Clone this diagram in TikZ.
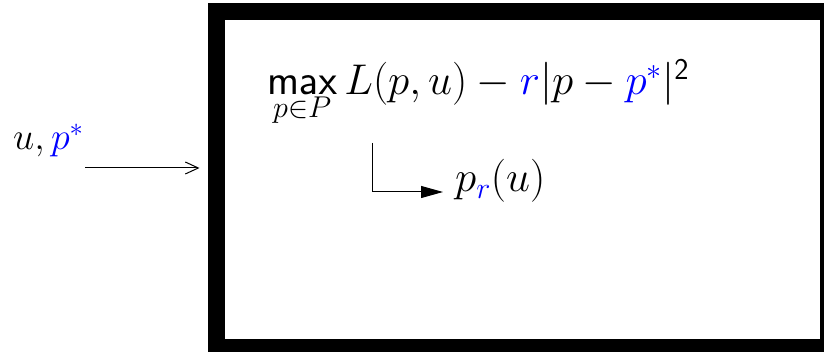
\documentclass[tikz,border=0pt]{standalone}
\usepackage{fix-cm}
\usetikzlibrary{arrows.meta}
\definecolor{pblue}{RGB}{0,0,255}
\tikzset{
  txt/.style={inner sep=0pt, anchor=base west, font=\fontsize{43}{50}\selectfont},
  smalltxt/.style={txt, font=\fontsize{38}{45}\selectfont},
  conn/.style={line width=1pt},
}
\begin{document}
\begin{tikzpicture}[x=1pt,y=-1pt]
\useasboundingbox (0,0) rectangle (824,352);
\clip (0,0) rectangle (824,352);
\node[draw, line width=17pt, inner sep=0pt, minimum width=612pt, minimum height=336pt] (box) at (522.5,179.5) {};
\node[smalltxt] (inp) at (13,150) {$u,{\color{pblue}p^*}$};
\coordinate (in) at (85,168);
\draw[conn, -{Straight Barb[length=13pt,width=12pt,line width=1pt]}, shorten >=8.5pt] (in) -- (in -| box.west);
\node[txt] (f) at (267,95) {$\mathop{\mathsf{max}}\limits_{\lower8pt\hbox{$\scriptstyle p\in P$}} L(p,u)-{\color{pblue}r}|p-{\color{pblue}p^*}|^{\mathsf{2}}$};
\coordinate (c1) at (372,143);
\node[txt] (out) at (455,192) {$p_{\color{pblue}r}(u)$};
\draw[conn, -{Triangle[length=22pt,width=12pt]}, shorten >=12pt] (c1) |- (out.base west);
\end{tikzpicture}
\end{document}
